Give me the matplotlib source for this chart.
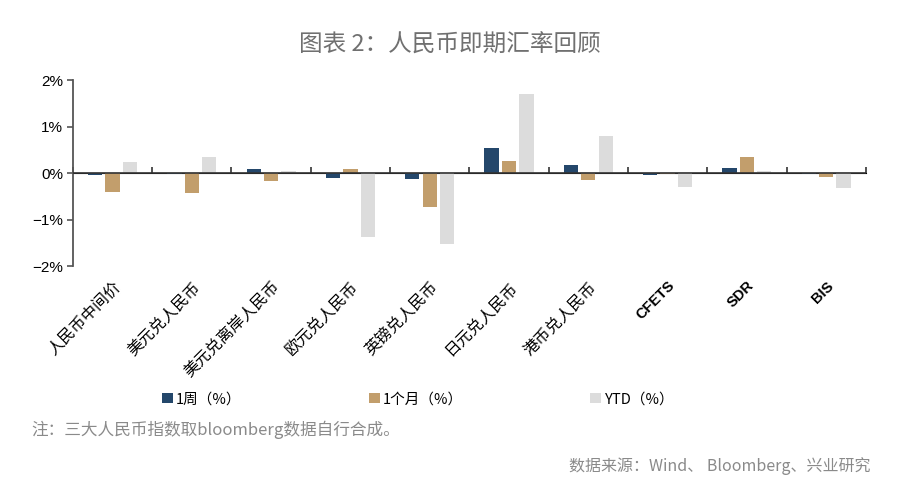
import numpy as np
import matplotlib
matplotlib.use('Agg')
import matplotlib.pyplot as plt

plt.rcParams['font.family'] = ['Noto Sans CJK SC', 'DejaVu Sans']

categories = ['人民币中间价', '美元兑人民币', '美元兑离岸人民币', '欧元兑人民币', '英镑兑人民币',
              '日元兑人民币', '港币兑人民币', 'CFETS', 'SDR', 'BIS']
week = [-0.04, -0.02, 0.08, -0.11, -0.13, 0.53, 0.17, -0.04, 0.10, -0.02]
month = [-0.40, -0.42, -0.17, 0.08, -0.73, 0.25, -0.14, -0.01, 0.34, -0.09]
ytd = [0.23, 0.35, 0.04, -1.37, -1.52, 1.70, 0.79, -0.29, 0.04, -0.32]
series_names = ['1周（%）', '1个月（%）', 'YTD（%）']
colors = ['#24476b', '#c29e6c', '#dcdcdc']

fig = plt.figure(figsize=(9, 4.82), dpi=100)
ax = fig.add_axes([0.081, 0.448, 0.881, 0.386])

x = np.arange(len(categories))
w = 0.18
off = 0.22
bars = []
for i, (vals, c) in enumerate(zip([week, month, ytd], colors)):
    b = ax.bar(x + (i - 1) * off, vals, width=w, color=c, label=series_names[i], zorder=2)
    bars.append(b)

ax.set_xlim(-0.5, len(categories) - 0.5)
ax.set_ylim(-2, 2)
ax.set_yticks([-2, -1, 0, 1, 2])
ax.set_yticklabels(['−2%', '−1%', '0%', '1%', '2%'], fontsize=11, family=['Liberation Sans', 'DejaVu Sans'])
ax.tick_params(axis='y', length=4, color='#555555', width=1.2, pad=3)

for s in ['top', 'right', 'bottom']:
    ax.spines[s].set_visible(False)
ax.spines['left'].set_color('#555555')
ax.spines['left'].set_linewidth(1.3)

# zero line with boundary ticks
ax.axhline(0, color='#333333', linewidth=1.2, zorder=3)
sec = ax.secondary_xaxis(0.5)
sec.spines['bottom'].set_visible(False)
sec.set_xticks(np.arange(len(categories) + 1) - 0.5)
sec.set_xticklabels([])
sec.tick_params(axis='x', length=4, width=1.2, color='#333333', direction='out')

ax.set_xticks(x)
ax.tick_params(axis='x', length=0, pad=9)
labels = ax.set_xticklabels(categories, rotation=45, ha='right', rotation_mode='anchor', fontsize=11.5)
for lab, name in zip(labels, categories):
    if name.isascii():
        lab.set_family(['Liberation Sans', 'DejaVu Sans'])
        lab.set_fontweight('bold')
        lab.set_fontsize(10.5)

fig.text(0.5, 0.907, '图表 2：人民币即期汇率回顾', ha='center', va='center', fontsize=17, color='#707070')

leg = fig.legend(handles=bars, labels=series_names, loc='center left', bbox_to_anchor=(0.165, 0.172),
                 ncol=3, frameon=False, fontsize=10.5, handlelength=0.75, handleheight=0.75,
                 handletextpad=0.25, columnspacing=8.7)

fig.text(0.035, 0.108, '注：三大人民币指数取bloomberg数据自行合成。', ha='left', va='center', fontsize=12, color='#8a8a8a')
fig.text(0.967, 0.033, '数据来源：Wind、 Bloomberg、兴业研究', ha='right', va='center', fontsize=11.5, color='#8a8a8a')

fig.savefig('out.png', dpi=100, facecolor='white')
